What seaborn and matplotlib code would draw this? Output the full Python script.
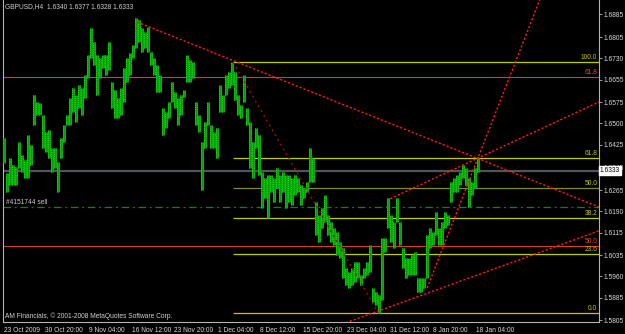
import matplotlib
matplotlib.use("Agg")
import matplotlib.pyplot as plt
import matplotlib.transforms as mtransforms
import numpy as np
import pandas as pd
import seaborn as sns

# ---------------- data ----------------
title_text = "GBPUSD,H4  1.6340 1.6377 1.6328 1.6333"
copyright_text = "AM Financials, \u00a9 2001-2008 MetaQuotes Software Corp."
order_label = "#4151744 sell"

high = [
    1.6449, 1.6325, 1.6378, 1.6354, 1.6347, 1.6435, 1.6389, 1.6371, 1.6459, 1.6424,
    1.6600, 1.6575, 1.6572, 1.6530, 1.6470, 1.6477, 1.6414, 1.6414, 1.6364, 1.6449,
    1.6494, 1.6530, 1.6590, 1.6625, 1.6600, 1.6636, 1.6625, 1.6671, 1.6742, 1.6837,
    1.6788, 1.6742, 1.6731, 1.6742, 1.6742, 1.6788, 1.6646, 1.6618, 1.6590, 1.6625,
    1.6696, 1.6731, 1.6749, 1.6777, 1.6872, 1.6865, 1.6837, 1.6823, 1.6840, 1.6752,
    1.6731, 1.6706, 1.6671, 1.6554, 1.6540, 1.6575, 1.6646, 1.6611, 1.6590, 1.6600,
    1.6618, 1.6742, 1.6724, 1.6717, 1.6575, 1.6530, 1.6435, 1.6505, 1.6575, 1.6494,
    1.6470, 1.6484, 1.6636, 1.6600, 1.6671, 1.6681, 1.6717, 1.6681, 1.6600, 1.6565,
    1.6671, 1.6554, 1.6505, 1.6435, 1.6484, 1.6459, 1.6329, 1.6308, 1.6318, 1.6318,
    1.6308, 1.6343, 1.6318, 1.6329, 1.6318, 1.6318, 1.6308, 1.6318, 1.6308, 1.6283,
    1.6272, 1.6294, 1.6414, 1.6378, 1.6223, 1.6177, 1.6202, 1.6248, 1.6177, 1.6152,
    1.6131, 1.6117, 1.6082, 1.6061, 1.5990, 1.5976, 1.5990, 1.6011, 1.6011, 1.5965,
    1.5990, 1.6011, 1.6071, 1.5919, 1.5905, 1.5895, 1.6096, 1.6096, 1.6237, 1.6177,
    1.6152, 1.6237, 1.6152, 1.6061, 1.6025, 1.6025, 1.6036, 1.6046, 1.5955, 1.5955,
    1.5955, 1.6106, 1.6131, 1.6117, 1.6188, 1.6131, 1.6152, 1.6188, 1.6177, 1.6294,
    1.6308, 1.6318, 1.6329, 1.6354, 1.6343, 1.6308, 1.6294, 1.6343, 1.6377,
]
low = [
    1.6361, 1.6258, 1.6283, 1.6283, 1.6283, 1.6343, 1.6329, 1.6308, 1.6308, 1.6354,
    1.6494, 1.6530, 1.6530, 1.6414, 1.6399, 1.6378, 1.6329, 1.6343, 1.6258, 1.6378,
    1.6435, 1.6494, 1.6494, 1.6540, 1.6505, 1.6554, 1.6530, 1.6590, 1.6660, 1.6731,
    1.6706, 1.6600, 1.6660, 1.6696, 1.6671, 1.6689, 1.6554, 1.6519, 1.6519, 1.6530,
    1.6575, 1.6646, 1.6671, 1.6731, 1.6766, 1.6788, 1.6752, 1.6766, 1.6752, 1.6706,
    1.6671, 1.6611, 1.6611, 1.6459, 1.6484, 1.6519, 1.6575, 1.6554, 1.6494, 1.6530,
    1.6593, 1.6646, 1.6646, 1.6660, 1.6494, 1.6470, 1.6265, 1.6414, 1.6494, 1.6414,
    1.6414, 1.6378, 1.6540, 1.6540, 1.6600, 1.6625, 1.6636, 1.6583, 1.6530, 1.6519,
    1.6575, 1.6494, 1.6343, 1.6308, 1.6414, 1.6318, 1.6202, 1.6237, 1.6167, 1.6258,
    1.6223, 1.6272, 1.6223, 1.6258, 1.6202, 1.6223, 1.6212, 1.6248, 1.6258, 1.6212,
    1.6237, 1.6258, 1.6294, 1.6294, 1.6106, 1.6082, 1.6131, 1.6152, 1.6106, 1.6082,
    1.6071, 1.6036, 1.6025, 1.5955, 1.5930, 1.5919, 1.5930, 1.5941, 1.5955, 1.5930,
    1.5955, 1.5965, 1.5976, 1.5870, 1.5859, 1.5831, 1.5877, 1.6046, 1.6131, 1.6082,
    1.6061, 1.6152, 1.6071, 1.5990, 1.5955, 1.5965, 1.5965, 1.5965, 1.5905, 1.5905,
    1.5919, 1.5955, 1.6061, 1.6071, 1.6106, 1.6071, 1.6071, 1.6131, 1.6142, 1.6223,
    1.6258, 1.6258, 1.6283, 1.6308, 1.6283, 1.6205, 1.6248, 1.6272, 1.6328,
]

x_tick_bars = [-0.4, 13.1, 27.8, 42.0, 56.2, 70.9, 84.8, 99.2, 113.7, 128.1, 142.3, 156.7]
x_tick_labels = ["23 Oct 2009", "30 Oct 20:00", "9 Nov 04:00", "16 Nov 12:00",
                 "23 Nov 20:00", "1 Dec 04:00", "8 Dec 12:00", "15 Dec 20:00",
                 "23 Dec 04:00", "31 Dec 12:00", "8 Jan 20:00", "18 Jan 04:00"]
price_ticks = [1.6885, 1.6805, 1.6730, 1.6655, 1.6575, 1.6500, 1.6425, 1.6345,
               1.6265, 1.6190, 1.6115, 1.6035, 1.5960, 1.5885, 1.5805]
current_price = 1.6333
order_price = 1.6205

fib_names = ["0.0", "23.6", "38.2", "50.0", "61.8", "100.0"]
fib_prices = [1.5830, 1.6039, 1.6167, 1.6272, 1.6378, 1.6717]
fib_start_bar = 76.3
red_fib_names = ["50.0", "61.8"]
red_fib_prices = [1.6067, 1.6665]

trend_a_bars, trend_a_prices = [44.3, 198.3], [1.6858, 1.6205]
fib_diag_bars, fib_diag_prices = [76.3, 124.7], [1.6717, 1.5831]
trend_c_bars, trend_c_prices = [110.0, 198.3], [1.5781, 1.6121]
trend_d_bars, trend_d_prices = [128.7, 198.3], [1.6234, 1.6576]
trend_e_bars, trend_e_prices = [141.0, 180.0], [1.5919, 1.6976]

# ---------------- figure ----------------
sns.set_style("dark")
plt.rcParams["font.family"] = ["Liberation Sans", "DejaVu Sans"]
W, H = 625, 334
fig = plt.figure(figsize=(W / 100, H / 100), dpi=100, facecolor="black")
ax = fig.add_axes([3 / W, 1 - 322 / H, 596 / W, 322 / H], facecolor="black")

xmin, xmax = -0.33, 198.3
ymin, ymax = 1.5799, 1.6936
ax.set_xlim(xmin, xmax)
ax.set_ylim(ymin, ymax)

df = pd.DataFrame({"bar": np.arange(len(high)), "high": high, "low": low})

# horizontal levels (behind bars)
ax.axhline(current_price, color="#50545c", lw=1.6, zorder=1)
for p in red_fib_prices:
    ax.axhline(p, color="#d2401e", lw=0.8, zorder=1)
for n, p in zip(fib_names, fib_prices):
    col = "#86862e" if n == "50.0" else "#c8c800"
    ax.hlines(p, fib_start_bar, xmax, color=col, lw=0.9, zorder=1)
ax.axhline(order_price, color="#1f7a1f", lw=0.9, ls=(0, (6, 3, 1.5, 3)), zorder=1)

# price bars
ax.vlines(df["bar"], df["low"], df["high"], color="#00a000", lw=2.2, zorder=3)
ax.vlines(df["bar"] - 0.3, df["low"], df["high"], color="#26d826", lw=0.7,
          linestyles=(0, (1, 1)), zorder=4)
ax.vlines(df["bar"] + 0.3, df["low"], df["high"], color="#1cc41c", lw=0.6,
          linestyles=(1, (1, 1)), zorder=4)

# trend lines (seaborn)
lines = [(trend_a_bars, trend_a_prices, "#ff1a1a", (0, (1.6, 1.4))),
         (fib_diag_bars, fib_diag_prices, "#a01010", (0, (1.5, 2.5))),
         (trend_c_bars, trend_c_prices, "#ff1a1a", (0, (1.6, 1.4))),
         (trend_d_bars, trend_d_prices, "#ff1a1a", (0, (1.6, 1.4))),
         (trend_e_bars, trend_e_prices, "#ff1a1a", (0, (1.6, 1.4)))]
for bx, py, col, ls in lines:
    sns.lineplot(x=bx, y=py, ax=ax, color=col, lw=1.0, linestyle=ls, zorder=5)

# fib labels
fs = 4.8
for n, p in zip(fib_names, fib_prices):
    ax.text(197.7, p + 0.0003, n, color="#c8c800", fontsize=fs, ha="right", va="bottom", zorder=6)
for n, p in zip(red_fib_names, red_fib_prices):
    ax.text(197.7, p + 0.0003, n, color="#e0502a", fontsize=fs, ha="right", va="bottom", zorder=6)
ax.text(0.7, order_price + 0.0004, order_label, color="#c8c8c8", fontsize=fs,
        ha="left", va="bottom", zorder=6)

# axes styling
ax.spines["top"].set_visible(False)
for s in ["left", "right", "bottom"]:
    ax.spines[s].set_color("#b4b4b4")
    ax.spines[s].set_linewidth(0.8)
ax.grid(False)
ax.yaxis.tick_right()
ax.set_yticks(price_ticks)
ax.set_yticklabels([f"{p:.4f}" for p in price_ticks])
ax.tick_params(axis="y", colors="#b4b4b4", labelcolor="#d8d8d8", labelsize=fs,
               length=2, width=0.6, pad=1.5, direction="out")
ax.set_xticks(x_tick_bars)
ax.set_xticklabels(x_tick_labels)
ax.tick_params(axis="x", colors="#b4b4b4", labelcolor="#d8d8d8", labelsize=fs,
               length=2.5, width=0.6, pad=1.2, direction="out")
offset = mtransforms.ScaledTranslation(1.5 / 100, 0, fig.dpi_scale_trans)
for lab in ax.get_xticklabels():
    lab.set_horizontalalignment("left")
    lab.set_transform(lab.get_transform() + offset)
ax.set_xlabel("")
ax.set_ylabel("")

# current price box (covers the 1.6345 tick label as in the terminal)
ax.text(1.0015, current_price, f"{current_price:.4f}", transform=ax.get_yaxis_transform(),
        fontsize=fs, color="black", ha="left", va="center", zorder=10, clip_on=False,
        bbox=dict(boxstyle="square,pad=0.15", fc="white", ec="white"))

# header / footer
fig.text(5 / W, 1 - 7 / H, title_text, color="#d0d0d0", fontsize=fs, ha="left", va="center")
fig.text(5 / W, 1 - 316 / H, copyright_text, color="#d0d0d0", fontsize=fs, ha="left", va="center")

fig.savefig("out.png", dpi=100, facecolor="black")
